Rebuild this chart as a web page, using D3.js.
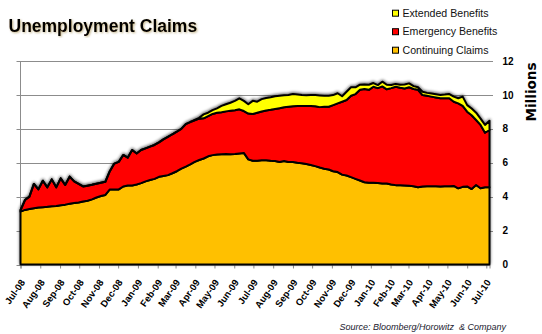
<!DOCTYPE html>
<html><head><meta charset="utf-8">
<script src="https://cdn.jsdelivr.net/npm/d3@7"></script>
<style>body{margin:0;background:#fff}svg{display:block}</style>
</head><body>
<svg id="c" width="542" height="334"></svg>
<script>
// ---- data (millions, weekly) ----
const startDate = "2008-07-01";
const weekCount = 106;
const continuing = [
 3.12,3.22,3.27,3.32,3.36,3.38,3.40,3.43,3.45,3.50,
 3.53,3.58,3.62,3.66,3.72,3.76,3.84,3.95,4.04,4.10,
 4.43,4.43,4.43,4.60,4.66,4.66,4.72,4.80,4.90,4.98,
 5.05,5.17,5.22,5.27,5.38,5.50,5.65,5.77,5.90,6.05,
 6.16,6.25,6.38,6.45,6.48,6.50,6.52,6.50,6.52,6.55,
 6.58,6.20,6.12,6.12,6.15,6.15,6.12,6.10,6.05,6.10,
 6.05,6.05,6.00,5.97,5.92,5.87,5.80,5.72,5.65,5.60,
 5.50,5.45,5.30,5.25,5.15,5.05,4.95,4.85,4.82,4.82,
 4.80,4.78,4.78,4.72,4.68,4.68,4.66,4.64,4.62,4.56,
 4.60,4.62,4.62,4.62,4.60,4.62,4.62,4.63,4.49,4.58,
 4.60,4.45,4.69,4.50,4.55,4.55];
const emergency = [
 0.08,0.58,0.73,1.43,1.07,1.56,1.15,1.59,1.10,1.58,
 1.16,1.60,1.28,1.09,0.88,0.89,0.86,0.81,0.78,0.78,
 1.07,1.52,1.62,1.86,1.64,2.09,1.83,1.95,1.95,1.97,
 2.00,2.03,2.16,2.25,2.30,2.33,2.35,2.51,2.50,2.45,
 2.44,2.37,2.37,2.43,2.47,2.48,2.51,2.57,2.58,2.60,
 2.47,2.70,2.76,2.83,2.87,2.93,3.00,3.07,3.17,3.17,
 3.25,3.28,3.35,3.38,3.43,3.48,3.53,3.56,3.65,3.70,
 3.90,4.05,4.30,4.45,4.80,5.00,5.35,5.50,5.48,5.66,
 5.60,5.72,5.55,5.68,5.80,5.74,5.72,5.81,5.73,5.74,
 5.39,5.33,5.28,5.23,5.20,5.18,5.18,4.97,5.01,4.77,
 4.41,4.35,3.83,3.73,3.22,3.38];
const extended = [
 0,0,0,0,0,0,0,0,0,0,
 0,0,0,0,0,0,0,0,0,0,
 0,0,0,0,0,0,0,0,0,0,
 0,0,0,0,0,0,0,0,0,0.03,
 0.05,0.23,0.20,0.22,0.26,0.37,0.42,0.47,0.55,0.65,
 0.60,0.55,0.77,0.65,0.73,0.74,0.74,0.75,0.73,0.71,
 0.70,0.72,0.67,0.64,0.63,0.64,0.66,0.69,0.65,0.65,
 0.59,0.60,0.32,0.49,0.50,0.40,0.30,0.27,0.30,0.22,
 0.18,0.28,0.27,0.18,0.17,0.18,0.24,0.23,0.17,0.15,
 0.20,0.17,0.18,0.19,0.20,0.22,0.25,0.30,0.30,0.55,
 0.39,0.40,0.43,0.37,0.46,0.55];
const yTicks = [0,2,4,6,8,10,12];
const seriesKeys = ["continuing","emergency","extended"];
const seriesColors = ["#FFC000","#FF0000","#FFFF00"];
const legendLabels = ["Extended Benefits","Emergency Benefits","Continuing Claims"];
const legendColors = ["#FFFF00","#FF0000","#FFC000"];
const titleText = "Unemployment Claims";
const axisTitle = "Millions";
const sourceText = "Source: Bloomberg/Horowitz  & Company";

// ---- build ----
const svg = d3.select("#c");
const parse = d3.utcParse("%Y-%m-%d");
const dates = d3.range(weekCount).map(i => d3.utcDay.offset(parse(startDate), 7*i));
const rows = dates.map((d,i) => ({date:d, continuing:continuing[i], emergency:emergency[i], extended:extended[i]}));

const plotL = 20.5, dataR = 489.5, gridR = 493, yBot = 264.5, yTop = 61;
const x = d3.scaleUtc().domain([dates[0], dates[dates.length-1]]).range([plotL, dataR]);
const y = d3.scaleLinear().domain([0,12]).range([yBot, yTop]);

const defs = svg.append("defs");
const f = defs.append("filter").attr("id","glow").attr("x","-5%").attr("y","-10%").attr("width","110%").attr("height","120%");
f.append("feGaussianBlur").attr("in","SourceAlpha").attr("stdDeviation",1.8).attr("result","b");
f.append("feOffset").attr("in","b").attr("dx",-0.5).attr("dy",-1).attr("result","o");
f.append("feComponentTransfer").attr("in","o").attr("result","s")
  .append("feFuncA").attr("type","linear").attr("slope",0.6);
const m = f.append("feMerge");
m.append("feMergeNode").attr("in","s");
m.append("feMergeNode").attr("in","SourceGraphic");

const tf = defs.append("filter").attr("id","tsh");
tf.append("feDropShadow").attr("dx",1).attr("dy",1).attr("stdDeviation",0.8).attr("flood-color","#7a5a00").attr("flood-opacity",0.45);

// gridlines
svg.append("g").selectAll("line").data(yTicks.filter(t=>t>0)).join("line")
  .attr("x1",plotL).attr("x2",gridR).attr("y1",d=>Math.round(y(d))+0.5).attr("y2",d=>Math.round(y(d))+0.5)
  .attr("stroke","#8c8c8c").attr("stroke-width",1);
// left axis line + small ticks
svg.append("line").attr("x1",plotL).attr("x2",plotL).attr("y1",yTop).attr("y2",yBot).attr("stroke","#8c8c8c");
svg.append("g").selectAll("line").data(yTicks).join("line")
  .attr("x1",plotL-4).attr("x2",plotL).attr("y1",d=>Math.round(y(d))+0.5).attr("y2",d=>Math.round(y(d))+0.5)
  .attr("stroke","#8c8c8c");

// x axis
const months = d3.utcMonth.range(parse("2008-07-01"), parse("2010-07-02"));
const xAxis = d3.axisBottom(x).tickValues(months).tickSize(4).tickFormat(d3.utcFormat("%b-%y"));
const gx = svg.append("g").attr("transform",`translate(0,${yBot})`).call(xAxis);
gx.select(".domain").attr("stroke","#8c8c8c");
gx.selectAll(".tick line").attr("stroke","#8c8c8c");
gx.selectAll(".tick text")
  .attr("font-family","Liberation Sans, Arial, sans-serif").attr("font-weight","bold").attr("font-size","9.5px")
  .attr("fill","#000").attr("text-anchor","end")
  .attr("y",0).attr("dy",0)
  .attr("transform","translate(4.5,18) rotate(-55)");

// stacked areas
const stack = d3.stack().keys(seriesKeys);
const layers = stack(rows);
const area = d3.area().x(d=>x(d.data.date)).y0(d=>y(d[0])).y1(d=>y(d[1]));
const ga = svg.append("g").attr("filter","url(#glow)");
ga.selectAll("path").data(layers).join("path")
  .attr("d",area).attr("fill",(d,i)=>seriesColors[i])
  .attr("stroke","#000").attr("stroke-width",2).attr("stroke-linejoin","round");

// y labels (right)
svg.append("g").selectAll("text").data(yTicks).join("text")
  .attr("x",502.5).attr("y",d=>y(d)).attr("dy","0.36em")
  .attr("font-family","Liberation Sans, Arial, sans-serif").attr("font-weight","bold").attr("font-size","10px")
  .text(d=>d);

svg.append("text").attr("transform","translate(535.5,92) rotate(-90)").attr("text-anchor","middle")
  .attr("font-family","DejaVu Sans, Verdana, sans-serif").attr("font-weight","bold").attr("font-size","13.5px")
  .text(axisTitle);

// title
svg.append("text").attr("x",8.5).attr("y",31.5).attr("filter","url(#tsh)")
  .attr("font-family","Liberation Sans, Arial, sans-serif").attr("font-weight","bold").attr("font-size","17.5px")
  .text(titleText);

// legend
const lg = svg.append("g").selectAll("g").data(legendLabels).join("g")
  .attr("transform",(d,i)=>`translate(392,${13.2+i*18.5})`);
lg.append("rect").attr("x",0.5).attr("y",-3).attr("width",6).attr("height",6)
  .attr("fill",(d,i)=>legendColors[i]).attr("stroke","#000").attr("stroke-width",1);
lg.append("text").attr("x",10.5).attr("y",0).attr("dy","0.35em")
  .attr("font-family","Liberation Sans, Arial, sans-serif").attr("font-size","10.6px").attr("fill","#111")
  .text(d=>d);

// source
svg.append("text").attr("x",506).attr("y",330).attr("text-anchor","end")
  .attr("font-family","Liberation Sans, Arial, sans-serif").attr("font-style","italic").attr("font-size","9px")
  .attr("fill","#1a1a2e").style("white-space","pre")
  .text(sourceText);
</script>
</body></html>
